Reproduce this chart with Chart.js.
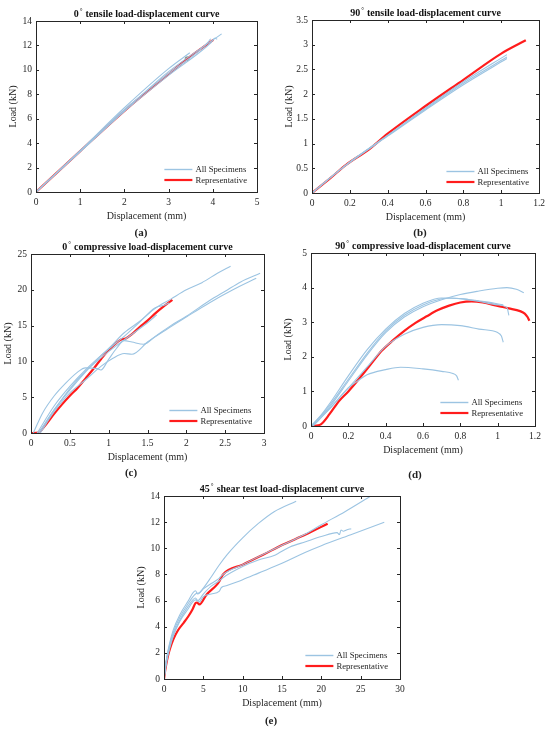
<!DOCTYPE html>
<html>
<head>
<meta charset="utf-8">
<script src="https://cdn.jsdelivr.net/npm/chart.js@4.4.1/dist/chart.umd.min.js"></script>
<style>
  html, body { margin: 0; padding: 0; background: #fff; }
  #page { position: relative; width: 550px; height: 731px; overflow: hidden; }
  #page canvas { position: absolute; left: 0; top: 0; }
  .lbl { position: absolute; font: bold 11px "Liberation Serif", serif; color: #222; transform: translate(-50%, -50%); }
</style>
</head>
<body>
<div id="page">
  <canvas id="cA" width="550" height="731"></canvas>
  <canvas id="cB" width="550" height="731"></canvas>
  <canvas id="cC" width="550" height="731"></canvas>
  <canvas id="cD" width="550" height="731"></canvas>
  <canvas id="cE" width="550" height="731"></canvas>
  <div class="lbl" style="left:141px;top:232px">(a)</div>
  <div class="lbl" style="left:420px;top:232px">(b)</div>
  <div class="lbl" style="left:131px;top:472px">(c)</div>
  <div class="lbl" style="left:415px;top:474px">(d)</div>
  <div class="lbl" style="left:271px;top:720px">(e)</div>
</div>
<script>
// ---- data (displacement mm, load kN) ----
// (a) 0 deg tensile
const tensile0Ticks = { x: [0, 1, 2, 3, 4, 5], y: [0, 2, 4, 6, 8, 10, 12, 14] };
const tensile0S1 = [[0,0],[1,3.3],[2,6.65],[3,9.85],[4.2,12.95]];
const tensile0S2 = [[0,0],[1,3.4],[2,6.9],[3,10.1],[3.48,11.4]];
const tensile0S3 = [[0,0],[1,3.3],[2,6.6],[3,9.55],[3.95,12.2],[4.05,12.6],[4.1,12.5]];
const tensile0S4 = [[0,0],[1,3.35],[2,6.75],[3,9.7],[3.9,12.3],[3.95,12.55]];
const tensile0Rep = [[0,0],[1,3.35],[2.04,6.77],[3,9.65],[3.42,10.9],[4.01,12.45]];
const tensile0Mark = [[3.42,10.9]];

// (b) 90 deg tensile
const tensile90Ticks = { x: [0, 0.2, 0.4, 0.6, 0.8, 1, 1.2], y: [0, 0.5, 1, 1.5, 2, 2.5, 3, 3.5] };
const tensile90S1 = [[0,0],[0.18,0.57],[0.4,1.17],[0.6,1.72],[0.8,2.25],[1.03,2.8]];
const tensile90S2 = [[0,0],[0.18,0.57],[0.4,1.16],[0.6,1.7],[0.8,2.22],[1.03,2.75]];
const tensile90S3 = [[0,0],[0.18,0.56],[0.4,1.15],[0.6,1.68],[0.8,2.19],[1.03,2.72]];
const tensile90Rep = [[0,0],[0.1,0.31],[0.18,0.57],[0.3,0.88],[0.4,1.2],[0.6,1.76],[0.8,2.29],[1.0,2.82],[1.13,3.09]];

// (c) 0 deg compressive
const comp0Ticks = { x: [0, 0.5, 1, 1.5, 2, 2.5, 3], y: [0, 5, 10, 15, 20, 25] };
const comp0S1 = [[0.1,0],[0.3,3.3],[0.5,6.0],[0.7,8.5],[0.9,10.8],[1.0,11.8],[1.2,14.0],[1.4,15.6],[1.6,17.4],[1.8,18.7],[2.0,20.0],[2.2,21.0],[2.4,22.3],[2.57,23.3]];
const comp0S2 = [[0.12,0],[0.3,3.0],[0.5,5.6],[0.7,7.4],[0.9,9.3],[1.05,10.4],[1.2,11.1],[1.3,11.0],[1.5,12.7],[1.75,14.5],[2.0,16.2],[2.3,18.2],[2.6,20.0],[2.9,21.6]];
const comp0S3 = [[0.03,0],[0.15,2.8],[0.3,5.2],[0.45,7.0],[0.6,8.5],[0.7,9.1],[0.85,9.0],[0.9,8.8],[1.0,10.3],[1.1,11.8],[1.2,12.9],[1.3,12.7],[1.45,12.4],[1.6,13.5],[1.8,15.0],[2.0,16.3],[2.3,18.5],[2.5,19.8],[2.7,21.1],[2.95,22.3]];
const comp0S4 = [[0.1,0],[0.3,3.2],[0.5,6.2],[0.7,8.6],[0.9,10.5],[1.1,12.2],[1.3,13.8],[1.5,15.4],[1.62,16.5]];
const comp0S5 = [[0.08,0],[0.3,3.8],[0.5,6.5],[0.7,8.8],[0.9,10.8],[1.1,12.6],[1.2,13.5],[1.4,15.5],[1.6,17.5],[1.7,17.8],[1.78,18.2]];
const comp0Rep = [[0,0],[0.1,0.05],[0.14,0.5],[0.2,1.3],[0.3,2.7],[0.4,4.0],[0.5,5.2],[0.6,6.3],[0.7,7.6],[0.8,8.9],[0.9,10.3],[1.0,11.6],[1.1,12.6],[1.15,13.0],[1.22,13.2],[1.3,13.8],[1.4,14.8],[1.5,15.7],[1.6,16.7],[1.7,17.6],[1.82,18.6]];

// (d) 90 deg compressive
const comp90Ticks = { x: [0, 0.2, 0.4, 0.6, 0.8, 1, 1.2], y: [0, 1, 2, 3, 4, 5] };
const comp90S1 = [[0,0],[0.1,0.55],[0.2,1.3],[0.3,2.05],[0.4,2.7],[0.5,3.15],[0.6,3.45],[0.7,3.65],[0.8,3.8],[0.9,3.9],[1.0,3.98],[1.05,4.0],[1.1,3.95],[1.14,3.85]];
const comp90S2 = [[0.01,0],[0.1,0.65],[0.2,1.45],[0.3,2.2],[0.4,2.8],[0.5,3.25],[0.6,3.55],[0.7,3.7],[0.8,3.68],[0.9,3.6],[1.0,3.5],[1.05,3.42],[1.06,3.2]];
const comp90S3 = [[0,0],[0.1,0.6],[0.2,1.35],[0.3,2.1],[0.4,2.75],[0.5,3.2],[0.6,3.5],[0.7,3.68],[0.75,3.7],[0.85,3.65],[0.95,3.58],[1.03,3.5]];
const comp90S4 = [[0.01,0],[0.1,0.5],[0.2,1.1],[0.3,1.7],[0.4,2.3],[0.5,2.65],[0.6,2.85],[0.7,2.93],[0.8,2.9],[0.9,2.8],[1.0,2.7],[1.02,2.6],[1.03,2.42]];
const comp90S5 = [[0.01,0],[0.1,0.5],[0.2,1.1],[0.25,1.3],[0.3,1.48],[0.4,1.63],[0.48,1.7],[0.6,1.65],[0.7,1.58],[0.76,1.52],[0.78,1.45],[0.79,1.32]];
const comp90Rep = [[0,0],[0.04,0.02],[0.06,0.08],[0.1,0.35],[0.15,0.72],[0.2,1.0],[0.26,1.38],[0.32,1.78],[0.38,2.18],[0.44,2.48],[0.5,2.75],[0.56,2.98],[0.62,3.17],[0.68,3.35],[0.74,3.48],[0.8,3.57],[0.86,3.6],[0.92,3.57],[1.0,3.47],[1.06,3.4],[1.12,3.32],[1.145,3.25],[1.16,3.15],[1.17,3.04]];

// (e) 45 deg shear
const shearTicks = { x: [0, 5, 10, 15, 20, 25, 30], y: [0, 2, 4, 6, 8, 10, 12, 14] };
const shearS1 = [[0,0],[0.3,1.5],[0.7,2.7],[1.2,3.8],[2,4.9],[3,5.9],[4,6.75],[4.3,6.5],[5,6.95],[6,7.8],[7,8.7],[8,9.5],[10,10.8],[12,11.9],[14,12.8],[16.8,13.6]];
const shearS2 = [[0,0],[0.3,1.4],[0.7,2.6],[1.2,3.6],[2,4.7],[3,5.7],[4,6.5],[4.5,6.6],[5,6.9],[6,7.3],[7,7.7],[7.5,8.0],[10,8.75],[14,9.95],[18,11.1],[20,11.8],[23,12.8],[26.3,14]];
const shearS3 = [[0,0],[0.3,1.3],[0.7,2.4],[1.2,3.4],[2,4.5],[3,5.5],[4,6.2],[4.3,6.0],[5,6.5],[6,7.1],[7,7.5],[7.5,7.75],[10,8.6],[12,9.1],[14,9.45],[14.5,9.6],[16,10.1],[18,10.5],[20,10.9],[22,11.2],[22.3,11.05],[22.5,11.4],[22.8,11.3],[23.2,11.4],[23.8,11.5]];
const shearS4 = [[0,0],[0.3,1.2],[0.7,2.3],[1.2,3.3],[2,4.4],[3,5.3],[4,6.05],[4.5,5.9],[5,6.3],[6,6.5],[7,6.7],[7.3,7.0],[8,7.15],[10,7.6],[12,8.1],[15,8.85],[18,9.7],[20,10.2],[24,11.1],[28,12.0]];
const shearRep = [[0,0],[0.1,0.45],[0.25,1.0],[0.5,1.75],[0.75,2.3],[1.2,3.05],[1.8,3.75],[2.5,4.3],[3.1,4.8],[3.6,5.3],[4,5.8],[4.2,5.85],[4.5,5.7],[5.4,6.45],[6.7,7.2],[7.1,7.55],[7.5,8.0],[10,8.75],[12.6,9.5],[15,10.25],[18,11.05],[20.8,11.88]];

const BLUE = '#9cc4e2';
const RED = '#ff1c1c';
const INK = '#262626';
const FONT = '"Liberation Serif", "Times New Roman", serif';

Chart.defaults.font.family = FONT;
Chart.defaults.color = INK;

const toXY = pts => pts.map(p => ({ x: p[0], y: p[1] }));

// box round the plot with inward ticks on all four sides
const boxTicks = {
  id: 'boxTicks',
  afterDatasetsDraw(chart) {
    const { ctx, chartArea: a, scales: { x, y } } = chart;
    ctx.save();
    ctx.strokeStyle = INK;
    ctx.lineWidth = 1;
    ctx.beginPath();
    x.ticks.forEach(t => {
      const px = Math.round(x.getPixelForValue(t.value)) + 0.5;
      ctx.moveTo(px, a.bottom); ctx.lineTo(px, a.bottom - 3);
      ctx.moveTo(px, a.top); ctx.lineTo(px, a.top + 3);
    });
    y.ticks.forEach(t => {
      const py = Math.round(y.getPixelForValue(t.value)) + 0.5;
      ctx.moveTo(a.left, py); ctx.lineTo(a.left + 3, py);
      ctx.moveTo(a.right, py); ctx.lineTo(a.right - 3, py);
    });
    ctx.stroke();
    ctx.strokeRect(Math.round(a.left) + 0.5, Math.round(a.top) + 0.5,
      Math.round(a.right - a.left), Math.round(a.bottom - a.top));
    ctx.restore();
  }
};

// bold title with a superscript degree sign
const panelTitle = {
  id: 'panelTitle',
  afterDraw(chart, args, opts) {
    const { ctx, chartArea: a } = chart;
    const [num, rest] = opts.parts;
    const cx = (a.left + a.right) / 2;
    const y = a.top - 4;
    ctx.save();
    ctx.fillStyle = '#111';
    ctx.textBaseline = 'alphabetic';
    ctx.font = 'bold 10px ' + FONT;
    const wNum = ctx.measureText(num).width;
    const wRest = ctx.measureText(rest).width;
    ctx.font = '7px ' + FONT;
    const wDeg = ctx.measureText('\u00B0').width + 1.5;
    let x0 = cx - (wNum + wDeg + wRest) / 2;
    ctx.textAlign = 'left';
    ctx.font = 'bold 10px ' + FONT;
    ctx.fillText(num, x0, y);
    ctx.font = '7px ' + FONT;
    ctx.fillText('\u00B0', x0 + wNum + 1, y - 4);
    ctx.font = 'bold 10px ' + FONT;
    ctx.fillText(rest, x0 + wNum + wDeg, y);
    ctx.restore();
  }
};

// legend inside the plot, lower right, no frame
const panelLegend = {
  id: 'panelLegend',
  afterDraw(chart, args, opts) {
    const { ctx, chartArea: a } = chart;
    const items = [['All Specimens', BLUE, 1.4], ['Representative', RED, 2.2]];
    ctx.save();
    ctx.font = '8.7px ' + FONT;
    const tw = Math.max(...items.map(i => ctx.measureText(i[0]).width));
    const tx = a.right - opts.right - tw;
    items.forEach((it, i) => {
      const yy = a.bottom - opts.bottom - (items.length - 1 - i) * 10.5;
      ctx.strokeStyle = it[1];
      ctx.lineWidth = it[2];
      ctx.beginPath();
      ctx.moveTo(tx - 31, yy); ctx.lineTo(tx - 3, yy);
      ctx.stroke();
      ctx.fillStyle = INK;
      ctx.textBaseline = 'middle';
      ctx.fillText(it[0], tx, yy + 0.5);
    });
    ctx.restore();
  }
};

function makePanel(id, box, ticks, specimens, rep, titleParts, legend, extra) {
  const datasets = specimens.map(s => ({
    data: toXY(s), borderColor: BLUE, borderWidth: 1.1, pointRadius: 0,
    fill: false, cubicInterpolationMode: 'monotone'
  }));
  datasets.push({
    data: toXY(rep), borderColor: RED, borderWidth: 2.2, pointRadius: 0,
    fill: false, cubicInterpolationMode: 'monotone'
  });
  if (extra) {
    datasets.push({
      data: toXY(extra), showLine: false, pointRadius: 2,
      pointBackgroundColor: '#7a8a78', pointBorderColor: '#7a8a78'
    });
  }
  const axis = (vals, isX) => ({
    type: 'linear',
    min: vals[0],
    max: vals[vals.length - 1],
    grid: { display: false, drawTicks: false },
    border: { display: false },
    afterBuildTicks: s => { s.ticks = vals.map(v => ({ value: v })); },
    afterFit: s => { if (isX) s.height = 34; else s.width = 33; },
    ticks: {
      autoSkip: false, maxRotation: 0, padding: isX ? 5 : 4,
      color: INK, font: { size: 9.5, family: FONT },
      callback: v => String(v)
    },
    title: {
      display: true, text: isX ? 'Displacement (mm)' : 'Load (kN)',
      color: INK, font: { size: 10, family: FONT }, padding: { top: 4, bottom: 4 }
    }
  });
  return new Chart(document.getElementById(id), {
    type: 'line',
    data: { datasets },
    options: {
      responsive: false,
      animation: false,
      layout: {
        padding: { left: box.l - 33, right: 550 - box.r, top: box.t, bottom: 731 - box.b - 34 }
      },
      scales: { x: axis(ticks.x, true), y: axis(ticks.y, false) },
      plugins: {
        legend: { display: false },
        tooltip: { enabled: false },
        panelTitle: { parts: titleParts },
        panelLegend: legend
      }
    },
    plugins: [boxTicks, panelTitle, panelLegend]
  });
}

makePanel('cA', { l: 36, t: 21, r: 257, b: 192 }, tensile0Ticks,
  [tensile0S1, tensile0S2, tensile0S3, tensile0S4], tensile0Rep,
  ['0', ' tensile load-displacement curve'], { right: 10, bottom: 12 }, tensile0Mark);

makePanel('cB', { l: 312, t: 20, r: 540, b: 193 }, tensile90Ticks,
  [tensile90S1, tensile90S2, tensile90S3], tensile90Rep,
  ['90', ' tensile load-displacement curve'], { right: 10, bottom: 11 });

makePanel('cC', { l: 31, t: 254, r: 264, b: 433 }, comp0Ticks,
  [comp0S1, comp0S2, comp0S3, comp0S4, comp0S5], comp0Rep,
  ['0', ' compressive load-displacement curve'], { right: 12, bottom: 12 });

makePanel('cD', { l: 311, t: 253, r: 535, b: 426 }, comp90Ticks,
  [comp90S1, comp90S2, comp90S3, comp90S4, comp90S5], comp90Rep,
  ['90', ' compressive load-displacement curve'], { right: 12, bottom: 13 });

makePanel('cE', { l: 164, t: 496, r: 400, b: 679 }, shearTicks,
  [shearS1, shearS2, shearS3, shearS4], shearRep,
  ['45', ' shear test load-displacement curve'], { right: 12, bottom: 13 });
</script>
</body>
</html>
